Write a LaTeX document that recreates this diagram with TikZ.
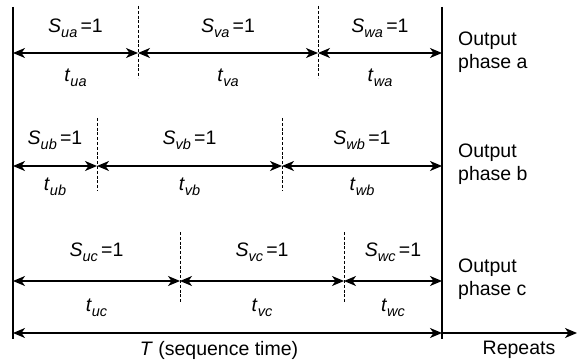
\documentclass[tikz,border=0pt]{standalone}
\usepackage{fontspec}
\setmainfont{Liberation Sans}
\usetikzlibrary{arrows.meta}
\newcommand\lbl[2]{\textit{#1}\raisebox{-0.5ex}{\fontsize{14.5}{15}\selectfont\textit{#2}}}
\begin{document}
\begin{tikzpicture}[x=1pt,y=-1pt,
  txt/.style={font=\fontsize{19.5}{23}\selectfont, inner sep=0pt},
  side/.style={font=\fontsize{19.5}{23}\selectfont, inner sep=0pt, anchor=west, align=left},
  bound/.style={line width=1.1pt},
  dim/.style={line width=1.1pt, {Stealth[length=12pt,width=10pt,inset=3.5pt]}-{Stealth[length=12pt,width=10pt,inset=3.5pt]}},
  sep/.style={line width=0.9pt, dash pattern=on 3pt off 1.8pt}
]
\useasboundingbox (0,0) rectangle (579,361);
% boundaries
\coordinate (L0) at (13,7);  \coordinate (L1) at (13,339);
\coordinate (R0) at (442,7); \coordinate (R1) at (442,339);
\draw[bound] (L0) -- (L1);
\draw[bound] (R0) -- (R1);
% row a
\coordinate (a0) at (13,53); \coordinate (a1) at (138,53); \coordinate (a2) at (318,53); \coordinate (a3) at (442,53);
\coordinate (da1t) at (138,6); \coordinate (da1b) at (138,78);
\coordinate (da2t) at (318,6); \coordinate (da2b) at (318,78);
\draw[sep] (da1t) -- (da1b);
\draw[sep] (da2t) -- (da2b);
\draw[dim] (a0) -- (a1);
\draw[dim] (a1) -- (a2);
\draw[dim] (a2) -- (a3);
\node[txt] (Sua) at (75.5,28) {\lbl{S}{ua}\,=1};
\node[txt] (Sva) at (228,28) {\lbl{S}{va}\,=1};
\node[txt] (Swa) at (380,28) {\lbl{S}{wa}\,=1};
\node[txt] (tua) at (75.5,78) {\lbl{t}{ua}};
\node[txt] (tva) at (228,78) {\lbl{t}{va}};
\node[txt] (twa) at (380,78) {\lbl{t}{wa}};
\node[side] (pa) at (458,52) {Output\\phase a};
% row b
\coordinate (b0) at (13,166); \coordinate (b1) at (97,166); \coordinate (b2) at (282,166); \coordinate (b3) at (442,166);
\coordinate (db1t) at (97,118); \coordinate (db1b) at (97,191);
\coordinate (db2t) at (282,118); \coordinate (db2b) at (282,191);
\draw[sep] (db1t) -- (db1b);
\draw[sep] (db2t) -- (db2b);
\draw[dim] (b0) -- (b1);
\draw[dim] (b1) -- (b2);
\draw[dim] (b2) -- (b3);
\node[txt] (Sub) at (55,140) {\lbl{S}{ub}\,=1};
\node[txt] (Svb) at (189.5,140) {\lbl{S}{vb}\,=1};
\node[txt] (Swb) at (362,140) {\lbl{S}{wb}\,=1};
\node[txt] (tub) at (55,187) {\lbl{t}{ub}};
\node[txt] (tvb) at (189.5,187) {\lbl{t}{vb}};
\node[txt] (twb) at (362,187) {\lbl{t}{wb}};
\node[side] (pb) at (458,164) {Output\\phase b};
% row c
\coordinate (c0) at (13,281); \coordinate (c1) at (180,281); \coordinate (c2) at (344,281); \coordinate (c3) at (442,281);
\coordinate (dc1t) at (180,232); \coordinate (dc1b) at (180,302);
\coordinate (dc2t) at (344,232); \coordinate (dc2b) at (344,302);
\draw[sep] (dc1t) -- (dc1b);
\draw[sep] (dc2t) -- (dc2b);
\draw[dim] (c0) -- (c1);
\draw[dim] (c1) -- (c2);
\draw[dim] (c2) -- (c3);
\node[txt] (Suc) at (96.5,252) {\lbl{S}{uc}\,=1};
\node[txt] (Svc) at (262,252) {\lbl{S}{vc}\,=1};
\node[txt] (Swc) at (393,252) {\lbl{S}{wc}\,=1};
\node[txt] (tuc) at (96.5,308) {\lbl{t}{uc}};
\node[txt] (tvc) at (262,308) {\lbl{t}{vc}};
\node[txt] (twc) at (393,308) {\lbl{t}{wc}};
\node[side] (pc) at (458,279) {Output\\phase c};
% sequence time
\coordinate (T0) at (13,333); \coordinate (T1) at (442,333); \coordinate (T2) at (577,333);
\draw[dim] (T0) -- (T1);
\draw[line width=1.1pt, -{Stealth[length=12pt,width=10pt,inset=3.5pt]}] (T1) -- (T2);
\node[txt] (Tl) at (219,350) {\textit{T} (sequence time)};
\node[txt] (rep) at (519,350) {Repeats};
\end{tikzpicture}
\end{document}
